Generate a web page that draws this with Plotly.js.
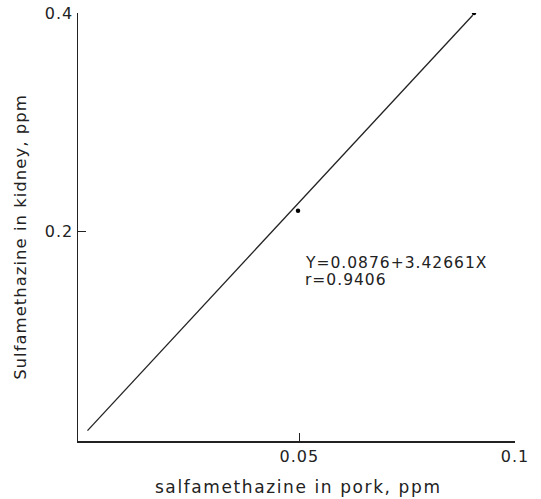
<!DOCTYPE html>
<html>
<head>
<meta charset="utf-8">
<script src="https://cdn.plot.ly/plotly-3.0.1.min.js"></script>
<style>
html,body{margin:0;padding:0;background:#fff;}
#chart{width:541px;height:499px;}
svg text{letter-spacing:1px;}
g.annotation[data-index="0"] text{letter-spacing:1.6px;}
</style>
</head>
<body>
<div id="chart"></div>
<script>
// Data
const pointX = [0.0497, 0.0905];
const pointY = [0.219, 0.400];
const lineX = [0.0009, 0.0902];
const lineY = [0.018, 0.398];
const xTickVals = [0.05, 0.1];
const xTickText = ["0.05", "0.1"];
const yTickVals = [0.2, 0.4];
const yTickText = ["0.2", "0.4"];
const xTitle = "salfamethazine in pork, ppm";
const yTitle = "Sulfamethazine in kidney, ppm";
const equationText = "Y=0.0876+3.42661X";
const rText = "r=0.9406";

const ink = "#222";
const fontFam = "DejaVu Sans, sans-serif";

const traces = [
  {x: lineX, y: lineY, type: "scatter", mode: "lines",
   line: {color: ink, width: 1.3}, hoverinfo: "skip", showlegend: false},
  {x: pointX, y: pointY, type: "scatter", mode: "markers",
   marker: {color: "#000", size: 4.5}, showlegend: false}
];

const layout = {
  width: 541, height: 499,
  margin: {l: 77.5, r: 26, t: 13, b: 58.3, pad: 0},
  paper_bgcolor: "#fff", plot_bgcolor: "#fff",
  font: {family: fontFam, color: ink, size: 16},
  showlegend: false,
  xaxis: {
    range: [-0.0013, 0.1], showgrid: false, zeroline: false,
    showline: true, linecolor: ink, linewidth: 1.5,
    ticks: "inside", ticklen: 8, tickwidth: 1.3, tickcolor: ink,
    tickmode: "array", tickvals: xTickVals, ticktext: xTickText,
    tickfont: {size: 16, family: fontFam, color: ink}
  },
  yaxis: {
    range: [0.0085, 0.4], showgrid: false, zeroline: false,
    showline: true, linecolor: ink, linewidth: 1.5,
    ticks: "inside", ticklen: 8, tickwidth: 1.3, tickcolor: ink,
    tickmode: "array", tickvals: yTickVals, ticktext: yTickText,
    tickfont: {size: 16, family: fontFam, color: ink}
  },
  annotations: [
    {x: 0.504, y: -0.108, xref: "paper", yref: "paper", xanchor: "center", yanchor: "middle",
     text: xTitle, showarrow: false, font: {size: 17, family: fontFam, color: ink}},
    {x: -0.1314, y: 0.476, xref: "paper", yref: "paper", xanchor: "center", yanchor: "middle",
     textangle: -90, text: yTitle, showarrow: false, font: {size: 16.5, family: fontFam, color: ink}},
    {x: 0.0509, y: 0.1709, xref: "x", yref: "y", xanchor: "left", yanchor: "middle",
     text: equationText, showarrow: false, font: {size: 15.5, family: fontFam, color: ink}},
    {x: 0.0509, y: 0.1556, xref: "x", yref: "y", xanchor: "left", yanchor: "middle",
     text: rText, showarrow: false, font: {size: 15.5, family: fontFam, color: ink}}
  ]
};

Plotly.newPlot("chart", traces, layout, {displayModeBar: false, staticPlot: true});
</script>
</body>
</html>
